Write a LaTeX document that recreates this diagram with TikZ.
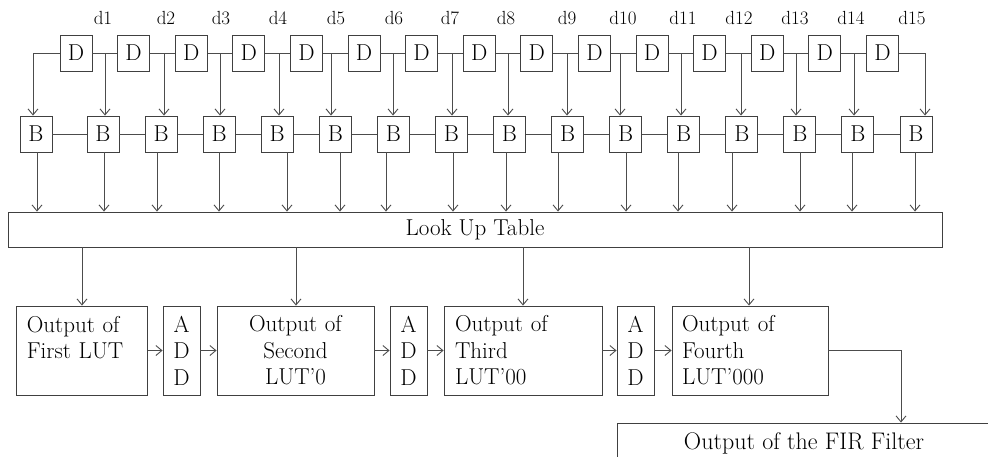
\documentclass[tikz,border=0pt]{standalone}
\usetikzlibrary{arrows.meta}
\begin{document}
\begin{tikzpicture}[x=1pt,y=-1pt,
  box/.style={draw=black!75,line width=0.9pt,fill=white,inner sep=0pt},
  small/.style={box,minimum width=32pt,minimum height=36pt,font=\fontsize{23}{26}\selectfont},
  ln/.style={draw=black!70,line width=0.9pt},
  arr/.style={ln,-{Straight Barb[length=6pt,width=10pt]}},
  txt/.style={font=\fontsize{23}{26.5}\selectfont},
  lbl/.style={font=\fontsize{19}{22}\selectfont,inner sep=0pt}]
\clip (0,0) rectangle (988,456);
\fill[white] (0,0) rectangle (988,456);
% delay chain
\foreach \i in {1,...,15}
  \node[small] (D\i) at ({76+(\i-1)*57.6},53) {D};
% B row
\node[small] (B1) at (36,134) {B};
\foreach \k in {2,...,16}
  \node[small] (B\k) at ({103+(\k-2)*58.07},134) {B};
% chain links and taps
\foreach \i [evaluate=\i as \j using {int(\i+1)}] in {1,...,14}
  \draw[ln] (D\i.east) -- (D\j.west);
\foreach \i/\x [evaluate=\i as \j using {int(\i+1)}] in
  {1/105,2/164,3/220,4/279,5/331,6/393,7/452,8/508,9/567,10/620,11/681,12/741,13/796,14/854}{
  \coordinate (t\i) at (\x,53);
  \draw[arr] (t\i) -- (t\i |- B\j.north);
}
\coordinate (t0) at (33,53);
\draw[arr] (D1.west) -- (t0) -- (t0 |- B1.north);
\coordinate (t15) at (925,53);
\draw[arr] (D15.east) -- (t15) -- (t15 |- B16.north);
% labels
\foreach \n/\x in {1/103,2/166,3/221,4/278,5/336,6/394,7/450,8/506,9/567,10/623,11/683,12/739,13/795,14/851,15/912}
  \node[lbl] (lab\n) at (\x,18) {d\n};
% B links
\foreach \k [evaluate=\k as \m using {int(\k+1)}] in {1,...,15}
  \draw[ln] (B\k.east) -- (B\m.west);
% LUT
\node[box,minimum width=934pt,minimum height=35pt,font=\fontsize{23}{26}\selectfont] (LUT) at (475,229.5) {Look Up Table};
\foreach \k/\x in {1/37,2/104,3/157,4/219,5/287,6/340,7/386,8/453,9/506,10/558,11/626,12/678,13/732,14/800,15/852,16/915}{
  \coordinate (b\k) at (\x,0);
  \draw[arr] (B\k.south -| b\k) -- (LUT.north -| b\k);
}
% output row
\node[box,txt,minimum width=131pt,minimum height=89pt,text width=111pt,align=left] (O1) at (82.3,350.5) {Output of\\First LUT\\\mbox{}};
\node[box,txt,minimum width=37pt,minimum height=89pt,align=center] (A1) at (181.5,350.5) {A\\D\\D};
\node[box,txt,minimum width=157pt,minimum height=89pt,text width=137pt,align=center] (O2) at (295.5,350.5) {Output of\\Second\\LUT'0};
\node[box,txt,minimum width=37pt,minimum height=89pt,align=center] (A2) at (408.5,350.5) {A\\D\\D};
\node[box,txt,minimum width=158pt,minimum height=89pt,text width=136pt,align=left] (O3) at (523,350.5) {Output of\\Third\\LUT'00};
\node[box,txt,minimum width=37pt,minimum height=89pt,align=center] (A3) at (635.5,350.5) {A\\D\\D};
\node[box,txt,minimum width=156pt,minimum height=89pt,text width=136pt,align=left] (O4) at (750,350.5) {Output of\\Fourth\\LUT'000};
\foreach \x [count=\n] in {82,296,523,749}{
  \coordinate (l\n) at (\x,0);
  \draw[arr] (LUT.south -| l\n) -- (O\n.north -| l\n);
}
\draw[arr] (O1.east) -- (A1.west);
\draw[arr] (A1.east) -- (O2.west);
\draw[arr] (O2.east) -- (A2.west);
\draw[arr] (A2.east) -- (O3.west);
\draw[arr] (O3.east) -- (A3.west);
\draw[arr] (A3.east) -- (O4.west);
% final output
\node[box,minimum width=374pt,minimum height=41pt,font=\fontsize{24}{27}\selectfont] (FIR) at (804,443.5) {Output of the FIR Filter};
\coordinate (fx) at (901,0);
\draw[arr] (O4.east) -| (FIR.north -| fx);
\end{tikzpicture}
\end{document}
